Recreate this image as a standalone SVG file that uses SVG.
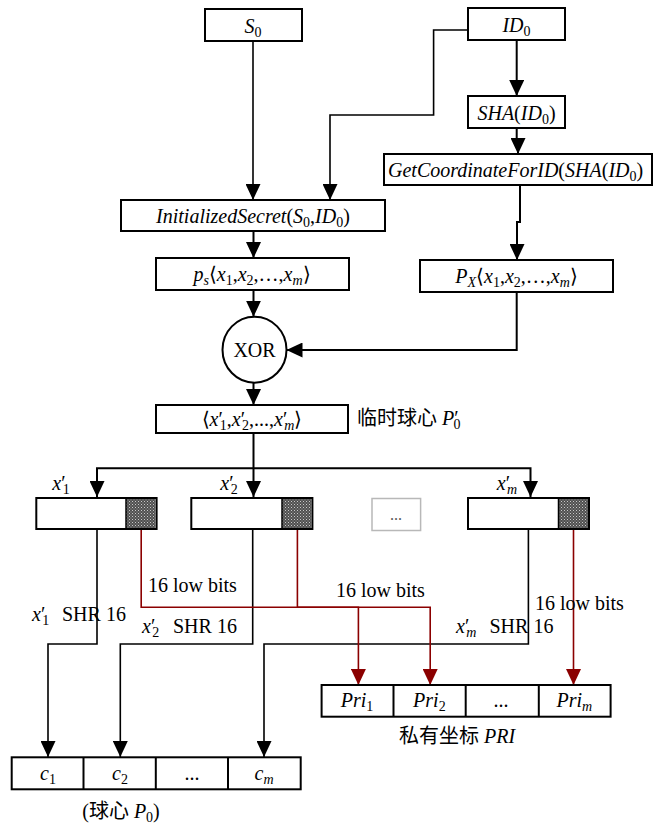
<svg xmlns="http://www.w3.org/2000/svg" width="655" height="825" viewBox="0 0 655 825" font-family="'Liberation Serif','Times New Roman',serif">
<style>
text{font-family:"Liberation Serif","Times New Roman","Noto Sans CJK SC",serif;font-size:20px;fill:#000}
.c{text-anchor:middle}
.i{font-style:italic}
.box{fill:#fff;stroke:#000;stroke-width:2}
.ln{fill:none;stroke:#000;stroke-width:2}
.thin{fill:none;stroke:#000;stroke-width:1.6}
.red{fill:none;stroke:#8b0000;stroke-width:1.6}
.sub{font-size:14px}
</style>
<defs>
<marker id="ab" markerUnits="userSpaceOnUse" markerWidth="16" markerHeight="15" viewBox="0 0 16 15" refX="16" refY="7.5" orient="auto"><path d="M0,0L16,7.5L0,15z" fill="#000"/></marker>
<marker id="ar" markerUnits="userSpaceOnUse" markerWidth="16" markerHeight="15" viewBox="0 0 16 15" refX="16" refY="7.5" orient="auto"><path d="M0,0L16,7.5L0,15z" fill="#8b0000"/></marker>
<pattern id="hatch" width="3" height="3" patternUnits="userSpaceOnUse"><rect width="3" height="3" fill="#505050"/><rect width="1" height="1" fill="#c8c8c8"/><rect x="1.5" y="1.5" width="1" height="1" fill="#a0a0a0"/></pattern>
</defs>

<g id="connectors">
<path class="thin" d="M253,41V200" marker-end="url(#ab)"/>
<path class="thin" d="M468,30H433.6V115H330V200" marker-end="url(#ab)"/>
<path class="ln" d="M516.7,40V96" marker-end="url(#ab)"/>
<path class="ln" d="M516.7,128V140H518V154" marker-end="url(#ab)"/>
<path class="ln" d="M520,185V222H517V260" marker-end="url(#ab)"/>
<path class="ln" d="M253.5,231V258" marker-end="url(#ab)"/>
<path class="ln" d="M253.5,290V316.7" marker-end="url(#ab)"/>
<path class="ln" d="M516.7,292V350H286.5" marker-end="url(#ab)"/>
<path class="ln" d="M253.5,382.7V405" marker-end="url(#ab)"/>
<path class="ln" d="M253.5,433V497" marker-end="url(#ab)"/>
<path class="ln" d="M97,497V468.3H530.5V497" marker-end="url(#ab)"/>
<path class="ln" d="M97,468.3V497" marker-end="url(#ab)"/>
<path class="thin" d="M97,530V644H48V757" marker-end="url(#ab)"/>
<path class="thin" d="M252.7,530V644H120.3V757" marker-end="url(#ab)"/>
<path class="thin" d="M528.4,530V644H264V757" marker-end="url(#ab)"/>
<path class="red" d="M141.2,530V607.3H358.4V685" marker-end="url(#ar)"/>
<path class="red" d="M297.4,530V607.3H430.2V685" marker-end="url(#ar)"/>
<path class="red" d="M573.5,530V685" marker-end="url(#ar)"/>
</g>

<g id="S0"><rect class="box" x="205" y="9" width="97" height="32"/><text class="c" x="253" y="33"><tspan class="i">S</tspan><tspan class="sub" dy="4">0</tspan></text></g>
<g id="ID0"><rect class="box" x="468" y="8" width="97" height="32"/><text class="c" x="516.5" y="32"><tspan class="i">ID</tspan><tspan class="sub" dy="4">0</tspan></text></g>
<g id="SHA"><rect class="box" x="468" y="96" width="97" height="32"/><text class="c" x="516.5" y="120"><tspan class="i">SHA</tspan>(<tspan class="i">ID</tspan><tspan class="sub" dy="4">0</tspan><tspan dy="-4">)</tspan></text></g>
<g id="GetCoord"><rect class="box" x="384" y="154" width="268" height="31"/><text x="388" y="177"><tspan class="i">GetCoordinateForID</tspan>(<tspan class="i">SHA</tspan>(<tspan class="i">ID</tspan><tspan class="sub" dy="4">0</tspan><tspan dy="-4">)</tspan></text></g>
<g id="InitSecret"><rect class="box" x="121" y="200" width="264" height="31"/><text class="c" x="253" y="223"><tspan class="i">InitializedSecret</tspan>(<tspan class="i">S</tspan><tspan class="sub" dy="4">0</tspan><tspan dy="-4">,</tspan><tspan class="i">ID</tspan><tspan class="sub" dy="4">0</tspan><tspan dy="-4">)</tspan></text></g>
<g id="PS"><rect class="box" x="156" y="258" width="193" height="32"/><text class="c" x="252" y="281"><tspan class="i">p</tspan><tspan class="sub i" dy="4">s</tspan><tspan dy="-4">⟨</tspan><tspan class="i">x</tspan><tspan class="sub" dy="4">1</tspan><tspan dy="-4">,</tspan><tspan class="i">x</tspan><tspan class="sub" dy="4">2</tspan><tspan dy="-4">,…,</tspan><tspan class="i">x</tspan><tspan class="sub i" dy="4">m</tspan><tspan dy="-4">⟩</tspan></text></g>
<g id="PX"><rect class="box" x="420" y="260" width="193" height="32"/><text class="c" x="516.5" y="283"><tspan class="i">P</tspan><tspan class="sub i" dy="4">X</tspan><tspan dy="-4">⟨</tspan><tspan class="i">x</tspan><tspan class="sub" dy="4">1</tspan><tspan dy="-4">,</tspan><tspan class="i">x</tspan><tspan class="sub" dy="4">2</tspan><tspan dy="-4">,…,</tspan><tspan class="i">x</tspan><tspan class="sub i" dy="4">m</tspan><tspan dy="-4">⟩</tspan></text></g>
<g id="XOR"><ellipse class="box" cx="254.5" cy="349.7" rx="32" ry="33"/><text class="c" x="254.5" y="357">XOR</text></g>
<g id="XPrime"><rect class="box" x="156" y="405" width="192" height="28"/><text class="c" x="252" y="426">⟨<tspan class="i">x</tspan>′<tspan class="sub" dx="-3" dy="4">1</tspan><tspan dy="-4">,</tspan><tspan class="i">x</tspan>′<tspan class="sub" dx="-3" dy="4">2</tspan><tspan dy="-4">,...,</tspan><tspan class="i">x</tspan>′<tspan class="sub i" dx="-3" dy="4">m</tspan><tspan dy="-4">⟩</tspan></text>
<text x="357" y="425">临时球心 <tspan class="i">P</tspan>′<tspan class="sub" dx="-5" dy="4">0</tspan></text></g>

<g id="branch1"><rect class="box" x="36.3" y="498" width="120.3" height="31"/><rect x="126" y="499" width="29.6" height="29" fill="url(#hatch)"/><line x1="126" y1="498" x2="126" y2="529" stroke="#000" stroke-width="1.5"/>
<text class="c" x="61" y="490"><tspan class="i">x</tspan>′<tspan class="sub" dx="-3" dy="4">1</tspan></text></g>
<g id="branch2"><rect class="box" x="191.3" y="498" width="121.1" height="31"/><rect x="282" y="499" width="29.4" height="29" fill="url(#hatch)"/><line x1="282" y1="498" x2="282" y2="529" stroke="#000" stroke-width="1.5"/>
<text class="c" x="229" y="490"><tspan class="i">x</tspan>′<tspan class="sub" dx="-3" dy="4">2</tspan></text></g>
<g id="branchDots"><rect x="372" y="498.5" width="48.6" height="32" fill="#fff" stroke="#b8b8b8" stroke-width="1.5"/><text class="c" x="396" y="520" style="fill:#555;font-size:16px">...</text></g>
<g id="branchM"><rect class="box" x="468" y="498" width="121" height="31"/><rect x="558.5" y="499" width="29.5" height="29" fill="url(#hatch)"/><line x1="558.5" y1="498" x2="558.5" y2="529" stroke="#000" stroke-width="1.5"/>
<text class="c" x="507" y="490"><tspan class="i">x</tspan>′<tspan class="sub i" dx="-3" dy="4">m</tspan></text></g>

<g id="labels">
<text x="148" y="592">16 low bits</text>
<text x="336" y="597">16 low bits</text>
<text x="535" y="610">16 low bits</text>
<text x="32" y="621"><tspan class="i">x</tspan>′<tspan class="sub" dx="-3" dy="4">1</tspan><tspan x="62" dy="-4">SHR 16</tspan></text>
<text x="142" y="633"><tspan class="i">x</tspan>′<tspan class="sub" dx="-3" dy="4">2</tspan><tspan x="173" dy="-4">SHR 16</tspan></text>
<text x="456" y="633"><tspan class="i">x</tspan>′<tspan class="sub i" dx="-3" dy="4">m</tspan><tspan x="489.5" dy="-4">SHR 16</tspan></text>
</g>

<g id="PRI"><rect class="box" x="321.6" y="685" width="289" height="31.7"/>
<line class="ln" x1="393.5" y1="685" x2="393.5" y2="716.7"/><line class="ln" x1="465.7" y1="685" x2="465.7" y2="716.7"/><line class="ln" x1="538.8" y1="685" x2="538.8" y2="716.7"/>
<text class="c" x="357" y="707"><tspan class="i">Pri</tspan><tspan class="sub" dy="4">1</tspan></text>
<text class="c" x="429.4" y="707"><tspan class="i">Pri</tspan><tspan class="sub" dy="4">2</tspan></text>
<text class="c" x="501" y="707">...</text>
<text class="c" x="574.3" y="707"><tspan class="i">Pri</tspan><tspan class="sub i" dy="4">m</tspan></text>
<text class="c" x="457" y="743">私有坐标 <tspan class="i">PRI</tspan></text></g>

<g id="C"><rect class="box" x="11.7" y="757.3" width="289" height="32"/>
<line class="ln" x1="83.5" y1="757.3" x2="83.5" y2="789.3"/><line class="ln" x1="155.8" y1="757.3" x2="155.8" y2="789.3"/><line class="ln" x1="228" y1="757.3" x2="228" y2="789.3"/>
<text class="c" x="48" y="780"><tspan class="i">c</tspan><tspan class="sub" dy="4">1</tspan></text>
<text class="c" x="120" y="780"><tspan class="i">c</tspan><tspan class="sub" dy="4">2</tspan></text>
<text class="c" x="192" y="780">...</text>
<text class="c" x="264" y="780"><tspan class="i">c</tspan><tspan class="sub i" dy="4">m</tspan></text>
<text class="c" x="121" y="818">(球心 <tspan class="i">P</tspan><tspan class="sub" dy="4">0</tspan><tspan dy="-4">)</tspan></text></g>
</svg>
